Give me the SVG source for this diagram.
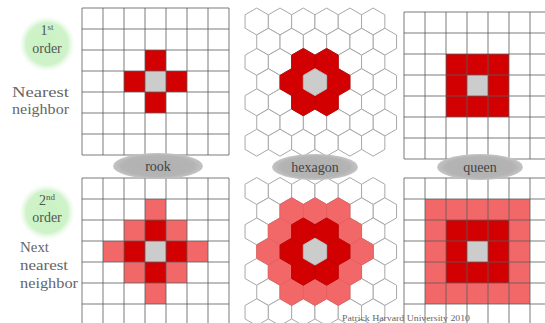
<svg xmlns="http://www.w3.org/2000/svg" width="545" height="323" viewBox="0 0 545 323">
<style>
.bg{fill:#ffffff}
.grid{fill:none;stroke:#5a5a5a;stroke-width:1;stroke-opacity:0.8}
.hx{stroke:#a8a8a8;stroke-width:1}
.w{fill:#ffffff}
.dk{fill:#d20000}
.lt{fill:#f26868}
.gy{fill:#cccccc}
.hdk{fill:#d20000;stroke:#c00000}
.hlt{fill:#f26868;stroke:#e86060}
.hgy{fill:#cccccc;stroke:#bbbbbb}
.ell{fill:url(#ellg)}
.lbl{font-family:"Liberation Serif",serif;font-size:14px;fill:#444444;text-anchor:middle}
.side{font-family:"Liberation Serif",serif;font-size:15px;fill:#666666}
.ord{font-family:"Liberation Serif",serif;font-size:14px;fill:#555555;text-anchor:middle}
.circ{fill:url(#greeng)}
</style>
<defs>
<path id="hex" d="M0,-13.45 L11.65,-6.72 L11.65,6.72 L0,13.45 L-11.65,6.72 L-11.65,-6.72 Z"/>
<radialGradient id="greeng" cx="0.5" cy="0.5" r="0.5">
<stop offset="0" stop-color="#c9f2c2"/>
<stop offset="0.75" stop-color="#cff3c9"/>
<stop offset="1" stop-color="#e8f9e6" stop-opacity="0"/>
</radialGradient>
<radialGradient id="ellg" cx="0.5" cy="0.5" r="0.5">
<stop offset="0" stop-color="#b0b0b0"/>
<stop offset="0.8" stop-color="#b4b4b4"/>
<stop offset="1" stop-color="#c4c4c4"/>
</radialGradient>
</defs>
<rect class="bg" x="0" y="0" width="545" height="323"/>

<g id="rook-1st">
<rect class="gy" x="145" y="71" width="21" height="21"/>
<rect class="dk" x="145" y="50" width="21" height="21"/>
<rect class="dk" x="145" y="92" width="21" height="21"/>
<rect class="dk" x="124" y="71" width="21" height="21"/>
<rect class="dk" x="166" y="71" width="21" height="21"/>
<path class="grid" d="M82,8V155M103,8V155M124,8V155M145,8V155M166,8V155M187,8V155M208,8V155M229,8V155M82,8H229M82,29H229M82,50H229M82,71H229M82,92H229M82,113H229M82,134H229M82,155H229"/>
</g>

<g id="rook-2nd">
<rect class="lt" x="145" y="199" width="21" height="21"/>
<rect class="lt" x="145" y="283" width="21" height="21"/>
<rect class="lt" x="103" y="241" width="21" height="21"/>
<rect class="lt" x="187" y="241" width="21" height="21"/>
<rect class="lt" x="124" y="220" width="21" height="21"/>
<rect class="lt" x="166" y="220" width="21" height="21"/>
<rect class="lt" x="124" y="262" width="21" height="21"/>
<rect class="lt" x="166" y="262" width="21" height="21"/>
<rect class="dk" x="145" y="220" width="21" height="21"/>
<rect class="dk" x="145" y="262" width="21" height="21"/>
<rect class="dk" x="124" y="241" width="21" height="21"/>
<rect class="dk" x="166" y="241" width="21" height="21"/>
<rect class="gy" x="145" y="241" width="21" height="21"/>
<path class="grid" d="M82,178V325M103,178V325M124,178V325M145,178V325M166,178V325M187,178V325M208,178V325M229,178V325M82,178H229M82,199H229M82,220H229M82,241H229M82,262H229M82,283H229M82,304H229"/>
</g>

<g id="queen-1st">
<rect class="dk" x="446" y="54" width="63" height="63"/>
<rect class="gy" x="467" y="75" width="21" height="21"/>
<path class="grid" d="M404,12V159M425,12V159M446,12V159M467,12V159M488,12V159M509,12V159M530,12V159M404,12H551M404,33H551M404,54H551M404,75H551M404,96H551M404,117H551M404,138H551M404,159H551"/>
</g>

<g id="queen-2nd">
<rect class="lt" x="425" y="199" width="105" height="105"/>
<rect class="dk" x="446" y="220" width="63" height="63"/>
<rect class="gy" x="467" y="241" width="21" height="21"/>
<path class="grid" d="M404,178V325M425,178V325M446,178V325M467,178V325M488,178V325M509,178V325M530,178V325M404,178H551M404,199H551M404,220H551M404,241H551M404,262H551M404,283H551M404,304H551"/>
</g>

<g id="hex-1st" class="hx">
<g class="w">
<use href="#hex" x="256.7" y="21.5"/><use href="#hex" x="280" y="21.5"/><use href="#hex" x="303.3" y="21.5"/><use href="#hex" x="326.6" y="21.5"/><use href="#hex" x="349.9" y="21.5"/><use href="#hex" x="373.2" y="21.5"/>
<use href="#hex" x="268.4" y="41.7"/><use href="#hex" x="291.7" y="41.7"/><use href="#hex" x="315" y="41.7"/><use href="#hex" x="338.3" y="41.7"/><use href="#hex" x="361.6" y="41.7"/><use href="#hex" x="384.9" y="41.7"/>
<use href="#hex" x="256.7" y="61.9"/><use href="#hex" x="280" y="61.9"/><use href="#hex" x="303.3" y="61.9"/><use href="#hex" x="326.6" y="61.9"/><use href="#hex" x="349.9" y="61.9"/><use href="#hex" x="373.2" y="61.9"/>
<use href="#hex" x="268.4" y="82.1"/><use href="#hex" x="291.7" y="82.1"/><use href="#hex" x="315" y="82.1"/><use href="#hex" x="338.3" y="82.1"/><use href="#hex" x="361.6" y="82.1"/><use href="#hex" x="384.9" y="82.1"/>
<use href="#hex" x="256.7" y="102.3"/><use href="#hex" x="280" y="102.3"/><use href="#hex" x="303.3" y="102.3"/><use href="#hex" x="326.6" y="102.3"/><use href="#hex" x="349.9" y="102.3"/><use href="#hex" x="373.2" y="102.3"/>
<use href="#hex" x="268.4" y="122.5"/><use href="#hex" x="291.7" y="122.5"/><use href="#hex" x="315" y="122.5"/><use href="#hex" x="338.3" y="122.5"/><use href="#hex" x="361.6" y="122.5"/><use href="#hex" x="384.9" y="122.5"/>
<use href="#hex" x="256.7" y="142.7"/><use href="#hex" x="280" y="142.7"/><use href="#hex" x="303.3" y="142.7"/><use href="#hex" x="326.6" y="142.7"/><use href="#hex" x="349.9" y="142.7"/><use href="#hex" x="373.2" y="142.7"/>
</g>
<g class="hdk">
<use href="#hex" x="291.7" y="82.1"/><use href="#hex" x="338.3" y="82.1"/><use href="#hex" x="303.3" y="61.9"/><use href="#hex" x="326.6" y="61.9"/><use href="#hex" x="303.3" y="102.3"/><use href="#hex" x="326.6" y="102.3"/>
</g>
<use class="hgy" href="#hex" x="315" y="82.1"/>
</g>

<g id="hex-2nd" class="hx">
<g class="w">
<use href="#hex" x="256.7" y="191"/><use href="#hex" x="280" y="191"/><use href="#hex" x="303.3" y="191"/><use href="#hex" x="326.6" y="191"/><use href="#hex" x="349.9" y="191"/><use href="#hex" x="373.2" y="191"/>
<use href="#hex" x="268.4" y="211.2"/><use href="#hex" x="291.7" y="211.2"/><use href="#hex" x="315" y="211.2"/><use href="#hex" x="338.3" y="211.2"/><use href="#hex" x="361.6" y="211.2"/><use href="#hex" x="384.9" y="211.2"/>
<use href="#hex" x="256.7" y="231.4"/><use href="#hex" x="280" y="231.4"/><use href="#hex" x="303.3" y="231.4"/><use href="#hex" x="326.6" y="231.4"/><use href="#hex" x="349.9" y="231.4"/><use href="#hex" x="373.2" y="231.4"/>
<use href="#hex" x="268.4" y="251.6"/><use href="#hex" x="291.7" y="251.6"/><use href="#hex" x="315" y="251.6"/><use href="#hex" x="338.3" y="251.6"/><use href="#hex" x="361.6" y="251.6"/><use href="#hex" x="384.9" y="251.6"/>
<use href="#hex" x="256.7" y="271.8"/><use href="#hex" x="280" y="271.8"/><use href="#hex" x="303.3" y="271.8"/><use href="#hex" x="326.6" y="271.8"/><use href="#hex" x="349.9" y="271.8"/><use href="#hex" x="373.2" y="271.8"/>
<use href="#hex" x="268.4" y="292"/><use href="#hex" x="291.7" y="292"/><use href="#hex" x="315" y="292"/><use href="#hex" x="338.3" y="292"/><use href="#hex" x="361.6" y="292"/><use href="#hex" x="384.9" y="292"/>
<use href="#hex" x="256.7" y="312.2"/><use href="#hex" x="280" y="312.2"/><use href="#hex" x="303.3" y="312.2"/><use href="#hex" x="326.6" y="312.2"/><use href="#hex" x="349.9" y="312.2"/><use href="#hex" x="373.2" y="312.2"/>
</g>
<g class="hlt">
<use href="#hex" x="291.7" y="211.2"/><use href="#hex" x="315" y="211.2"/><use href="#hex" x="338.3" y="211.2"/>
<use href="#hex" x="280" y="231.4"/><use href="#hex" x="349.9" y="231.4"/>
<use href="#hex" x="268.4" y="251.6"/><use href="#hex" x="361.6" y="251.6"/>
<use href="#hex" x="280" y="271.8"/><use href="#hex" x="349.9" y="271.8"/>
<use href="#hex" x="291.7" y="292"/><use href="#hex" x="315" y="292"/><use href="#hex" x="338.3" y="292"/>
</g>
<g class="hdk">
<use href="#hex" x="291.7" y="251.6"/><use href="#hex" x="338.3" y="251.6"/><use href="#hex" x="303.3" y="231.4"/><use href="#hex" x="326.6" y="231.4"/><use href="#hex" x="303.3" y="271.8"/><use href="#hex" x="326.6" y="271.8"/>
</g>
<use class="hgy" href="#hex" x="315" y="251.6"/>
</g>

<g id="label-rook">
<ellipse class="ell" cx="158" cy="166" rx="45" ry="13"/>
<text class="lbl" x="158" y="170.5">rook</text>
</g>
<g id="label-hexagon">
<ellipse class="ell" cx="315" cy="167" rx="43" ry="13"/>
<text class="lbl" x="315" y="171.5">hexagon</text>
</g>
<g id="label-queen">
<ellipse class="ell" cx="480" cy="167" rx="43" ry="13"/>
<text class="lbl" x="480" y="171.5">queen</text>
</g>

<g id="order-1st">
<circle class="circ" cx="47" cy="44" r="28"/>
<text class="ord" x="47" y="35">1<tspan font-size="9" dy="-5">st</tspan></text>
<text class="ord" x="47" y="53">order</text>
</g>
<g id="order-2nd">
<circle class="circ" cx="47" cy="212" r="28"/>
<text class="ord" x="47" y="205">2<tspan font-size="9" dy="-5">nd</tspan></text>
<text class="ord" x="47" y="222">order</text>
</g>

<g id="text-nearest">
<text class="side" x="12" y="97" textLength="57" lengthAdjust="spacingAndGlyphs">Nearest</text>
<text class="side" x="12" y="114" textLength="57" lengthAdjust="spacingAndGlyphs">neighbor</text>
</g>
<g id="text-next">
<text class="side" x="20" y="252" textLength="29" lengthAdjust="spacingAndGlyphs">Next</text>
<text class="side" x="20" y="270" textLength="48" lengthAdjust="spacingAndGlyphs">nearest</text>
<text class="side" x="20" y="288" textLength="58" lengthAdjust="spacingAndGlyphs">neighbor</text>
</g>

<text id="credit" font-family="Liberation Serif, serif" font-size="8" fill="#666666" x="342" y="321" textLength="128" lengthAdjust="spacingAndGlyphs">Patrick Harvard University 2010</text>
</svg>
